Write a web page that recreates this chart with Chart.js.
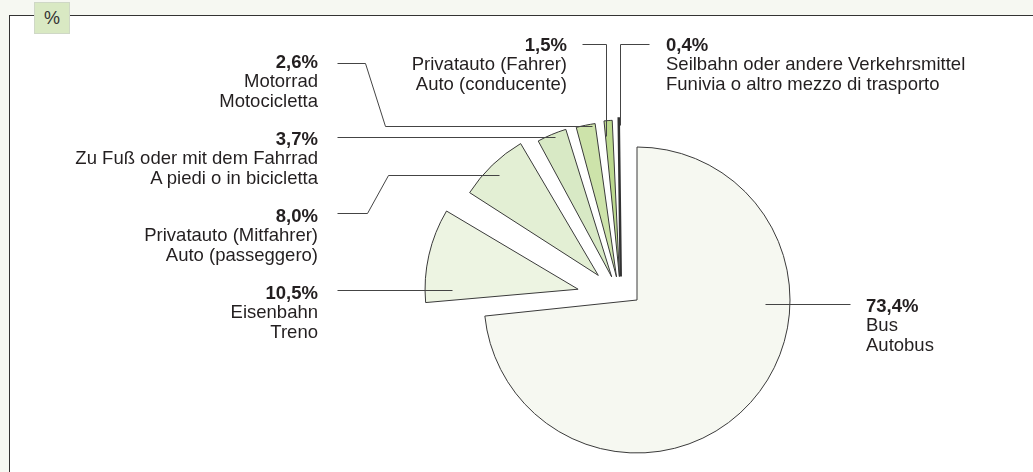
<!DOCTYPE html>
<html>
<head>
<meta charset="utf-8">
<script src="https://cdn.jsdelivr.net/npm/chart.js@4.4.1/dist/chart.umd.min.js"></script>
<style>
  html, body { margin: 0; padding: 0; }
  body { width: 1033px; height: 472px; position: relative; overflow: hidden; background: #f6f8f2;
         font-family: "Liberation Sans", Arial, sans-serif; color: #231f20; }
  #frame { position: absolute; left: 9px; top: 15px; right: -2px; bottom: -2px; background: #fff;
           border-top: 1px solid #333; border-left: 1px solid #333; }
  #unit { position: absolute; left: 34px; top: 2px; width: 34px; height: 30px; background: #d9e9c3;
          border: 1px solid #cfd8c6; font-size: 18px; line-height: 30px; text-align: center; color: #333; }
  canvas { position: absolute; left: 0; top: 0; }
  .lbl { position: absolute; font-size: 18.5px; line-height: 19.7px; white-space: nowrap; }
  .lbl b { font-weight: bold; }
</style>
</head>
<body>
<div id="frame"></div>
<div id="unit">%</div>
<canvas id="torta" width="1033" height="472"></canvas>
<canvas id="fette" width="1033" height="472"></canvas>
<div id="labels"></div>
<script>
// Anteile / quote (%)
const valori = [73.4, 10.5, 8.0, 3.7, 2.6, 1.5, 0.4];
const nomiDe = ['Bus', 'Eisenbahn', 'Privatauto (Mitfahrer)', 'Zu Fuß oder mit dem Fahrrad',
                'Motorrad', 'Privatauto (Fahrer)', 'Seilbahn oder andere Verkehrsmittel'];
const nomiIt = ['Autobus', 'Treno', 'Auto (passeggero)', 'A piedi o in bicicletta',
                'Motocicletta', 'Auto (conducente)', 'Funivia o altro mezzo di trasporto'];

// colori e spostamenti delle fette
const colori = ['#f6f8f1', '#edf4e2', '#e3efd4', '#d8e9c5', '#cde3aa', '#bcd98f', '#333333'];
const stacchi = [0, 176, 131, 96, 90, 90, 90];

// posizione etichette: [allineamento, x, baseline prima riga]
const posEtichette = [
  ['left', 866, 312], ['right', 318, 299], ['right', 318, 222], ['right', 318, 145],
  ['right', 318, 68], ['right', 567, 51], ['left', 666, 51]
];
// linee di richiamo
const richiami = [
  [[765, 304], [850, 304]],
  [[337, 290], [452, 290]],
  [[337, 213], [367, 213], [388, 175], [499, 175]],
  [[337, 137], [555, 137]],
  [[337, 63], [365, 63], [385, 126], [592, 126]],
  [[582, 44], [606, 44], [606, 136]],
  [[649, 44], [620, 44], [620, 125]]
];

const fmt = v => v.toFixed(1).replace('.', ',') + '%';

// etichette come testo
const box = document.getElementById('labels');
valori.forEach((v, i) => {
  const [al, x, y] = posEtichette[i];
  const d = document.createElement('div');
  d.className = 'lbl';
  d.style.textAlign = al;
  d.style.top = (y - 16.3) + 'px';
  if (al === 'left') d.style.left = x + 'px';
  else d.style.right = (1033 - x) + 'px';
  d.innerHTML = `<b>${fmt(v)}</b><br>${nomiDe[i]}<br>${nomiIt[i]}`;
  box.appendChild(d);
});

const richiamiPlugin = {
  id: 'richiami',
  afterDatasetsDraw(chart) {
    const ctx = chart.ctx;
    ctx.save();
    ctx.strokeStyle = '#444';
    ctx.lineWidth = 1;
    richiami.forEach(pts => {
      ctx.beginPath();
      pts.forEach((p, k) => {
        const x = Math.round(p[0]) + 0.5, y = Math.round(p[1]) + 0.5;
        if (k === 0) ctx.moveTo(x, y); else ctx.lineTo(x, y);
      });
      ctx.stroke();
    });
    ctx.restore();
  }
};

const base = {
  responsive: false,
  animation: false,
  events: [],
  plugins: { legend: { display: false }, tooltip: { enabled: false } }
};

// fetta grande (Bus)
new Chart(document.getElementById('torta').getContext('2d'), {
  type: 'pie',
  data: {
    labels: nomiDe,
    datasets: [{
      data: valori,
      backgroundColor: colori.map((c, i) => i === 0 ? c : 'rgba(0,0,0,0)'),
      borderColor: '#3a3a3a',
      borderWidth: valori.map((v, i) => i === 0 ? 1 : 0),
      radius: 153
    }]
  },
  options: { ...base, layout: { padding: { left: 241, right: 0, top: 128, bottom: 0 } } }
});

// fette staccate
new Chart(document.getElementById('fette').getContext('2d'), {
  type: 'pie',
  data: {
    labels: nomiDe,
    datasets: [{
      data: valori,
      backgroundColor: colori.map((c, i) => i === 0 ? 'rgba(0,0,0,0)' : c),
      borderColor: ['#3a3a3a', '#3a3a3a', '#3a3a3a', '#3a3a3a', '#3a3a3a', '#3a3a3a', '#333333'],
      borderWidth: [0, 1, 1, 1, 1, 1, 2.5],
      borderJoinStyle: 'miter',
      offset: stacchi,
      radius: 136
    }]
  },
  options: { ...base, layout: { padding: { left: 209, right: 0, top: 126, bottom: 0 } } },
  plugins: [richiamiPlugin]
});
</script>
</body>
</html>
